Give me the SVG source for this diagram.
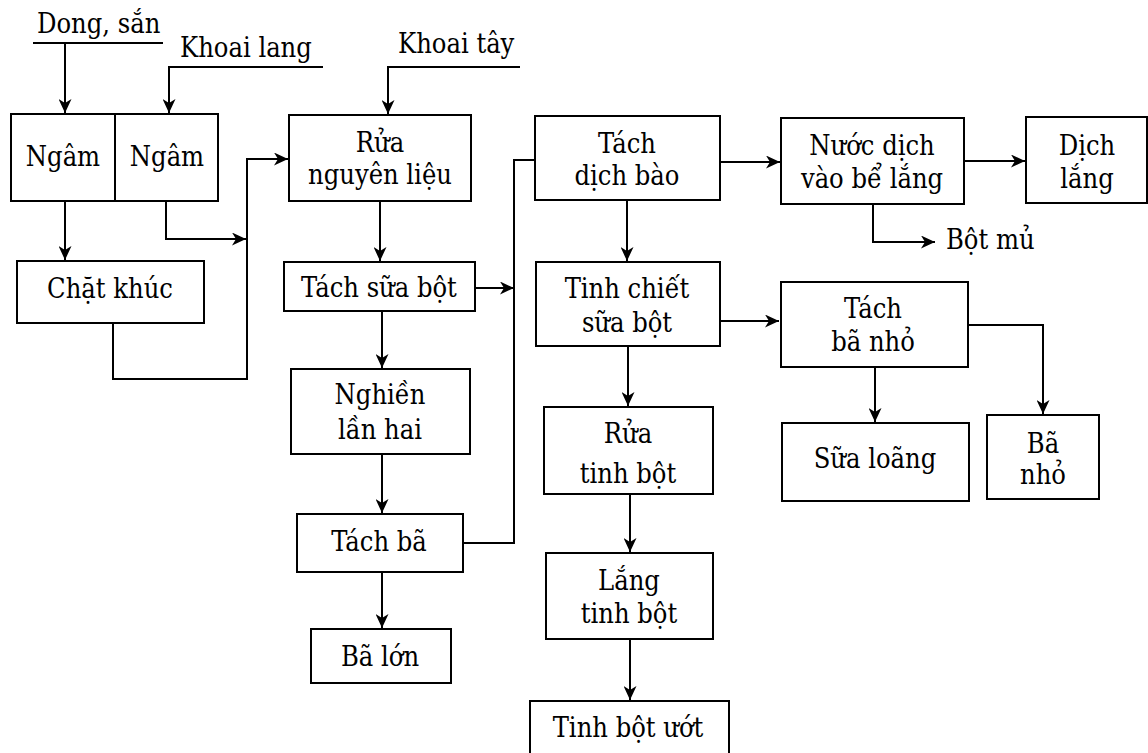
<svg xmlns="http://www.w3.org/2000/svg" width="1148" height="753" viewBox="0 0 1148 753">
<style>
.box{fill:#fff;stroke:#000;stroke-width:2}
text{font-family:'DejaVu Serif',serif;font-size:27px;fill:#000;font-stretch:condensed}
.t{text-anchor:middle}
.c{fill:none;stroke:#000;stroke-width:2}
.a{marker-end:url(#arr)}
</style>
<defs>
<marker id="arr" markerUnits="userSpaceOnUse" markerWidth="15" markerHeight="13" refX="14" refY="6.5" orient="auto">
<path d="M0,0 L14,6.5 L0,13 L4,6.5 Z" fill="#000"/>
</marker>
</defs>
<rect width="1148" height="753" fill="#fff"/>
<g id="connectors">
<line class="c" x1="33" y1="43" x2="163" y2="43"/>
<path class="c a" d="M65,43 V113"/>
<path class="c a" d="M323,67 H169 V113"/>
<path class="c a" d="M520,67 H388 V114"/>
<path class="c a" d="M65,201 V260"/>
<path class="c a" d="M166,201 V239 H246"/>
<path class="c a" d="M113,323 V379 H247 V159 H288"/>
<path class="c a" d="M380,201 V261"/>
<path class="c a" d="M475,288 H514"/>
<path class="c a" d="M382,311 V368"/>
<path class="c a" d="M382,454 V513"/>
<path class="c" d="M463,543 H514 V160 H535"/>
<path class="c a" d="M382,572 V628"/>
<path class="c a" d="M720,162 H780"/>
<path class="c a" d="M627,200 V261"/>
<path class="c a" d="M720,321 H779"/>
<path class="c a" d="M628,346 V406"/>
<path class="c a" d="M630,494 V552"/>
<path class="c a" d="M630,639 V700"/>
<path class="c a" d="M964,161 H1025"/>
<path class="c a" d="M873,204 V242 H935"/>
<path class="c a" d="M875,367 V422"/>
<path class="c a" d="M968,325 H1043 V414"/>
</g>
<g id="label-dong-san"><text x="37" y="33">Dong, sắn</text></g>
<g id="label-khoai-lang"><text x="180" y="57">Khoai lang</text></g>
<g id="label-khoai-tay"><text x="398" y="53">Khoai tây</text></g>
<g id="node-ngam"><rect class="box" x="11" y="114" width="207" height="87"/><line class="c" x1="115" y1="114" x2="115" y2="201"/><text class="t" x="63" y="166">Ngâm</text><text class="t" x="167" y="166">Ngâm</text></g>
<g id="node-chat-khuc"><rect class="box" x="17" y="261" width="187" height="62"/><text class="t" x="110" y="298">Chặt khúc</text></g>
<g id="node-rua-nguyen-lieu"><rect class="box" x="289" y="115" width="182" height="86"/><text class="t" x="380" y="152">Rửa</text><text class="t" x="380" y="184">nguyên liệu</text></g>
<g id="node-tach-sua-bot"><rect class="box" x="284" y="262" width="191" height="49"/><text class="t" x="379" y="297">Tách sữa bột</text></g>
<g id="node-nghien"><rect class="box" x="291" y="369" width="179" height="85"/><text class="t" x="380" y="404">Nghiền</text><text class="t" x="380" y="439">lần hai</text></g>
<g id="node-tach-ba"><rect class="box" x="297" y="514" width="166" height="58"/><text class="t" x="379" y="551">Tách bã</text></g>
<g id="node-ba-lon"><rect class="box" x="311" y="629" width="140" height="54"/><text class="t" x="380" y="666">Bã lớn</text></g>
<g id="node-tach-dich-bao"><rect class="box" x="535" y="116" width="185" height="84"/><text class="t" x="627" y="153">Tách</text><text class="t" x="627" y="185">dịch bào</text></g>
<g id="node-tinh-chiet"><rect class="box" x="536" y="262" width="184" height="84"/><text class="t" x="627" y="298">Tinh chiết</text><text class="t" x="627" y="332">sữa bột</text></g>
<g id="node-rua-tinh-bot"><rect class="box" x="544" y="407" width="169" height="87"/><text class="t" x="628" y="443">Rửa</text><text class="t" x="628" y="483">tinh bột</text></g>
<g id="node-lang-tinh-bot"><rect class="box" x="546" y="553" width="167" height="86"/><text class="t" x="629" y="590">Lắng</text><text class="t" x="629" y="623">tinh bột</text></g>
<g id="node-tinh-bot-uot"><rect class="box" x="530" y="701" width="199" height="60"/><text class="t" x="628" y="737">Tinh bột ướt</text></g>
<g id="node-nuoc-dich"><rect class="box" x="781" y="118" width="183" height="86"/><text class="t" x="872" y="155">Nước dịch</text><text class="t" x="872" y="188">vào bể lắng</text></g>
<g id="node-dich-lang"><rect class="box" x="1026" y="117" width="121" height="86"/><text class="t" x="1087" y="155">Dịch</text><text class="t" x="1087" y="188">lắng</text></g>
<g id="label-bot-mu"><text x="946" y="249">Bột mủ</text></g>
<g id="node-tach-ba-nho"><rect class="box" x="781" y="282" width="187" height="85"/><text class="t" x="873" y="318">Tách</text><text class="t" x="873" y="351">bã nhỏ</text></g>
<g id="node-sua-loang"><rect class="box" x="782" y="423" width="187" height="78"/><text class="t" x="875" y="468">Sữa loãng</text></g>
<g id="node-ba-nho"><rect class="box" x="987" y="415" width="112" height="84"/><text class="t" x="1043" y="453">Bã</text><text class="t" x="1043" y="484">nhỏ</text></g>
</svg>
